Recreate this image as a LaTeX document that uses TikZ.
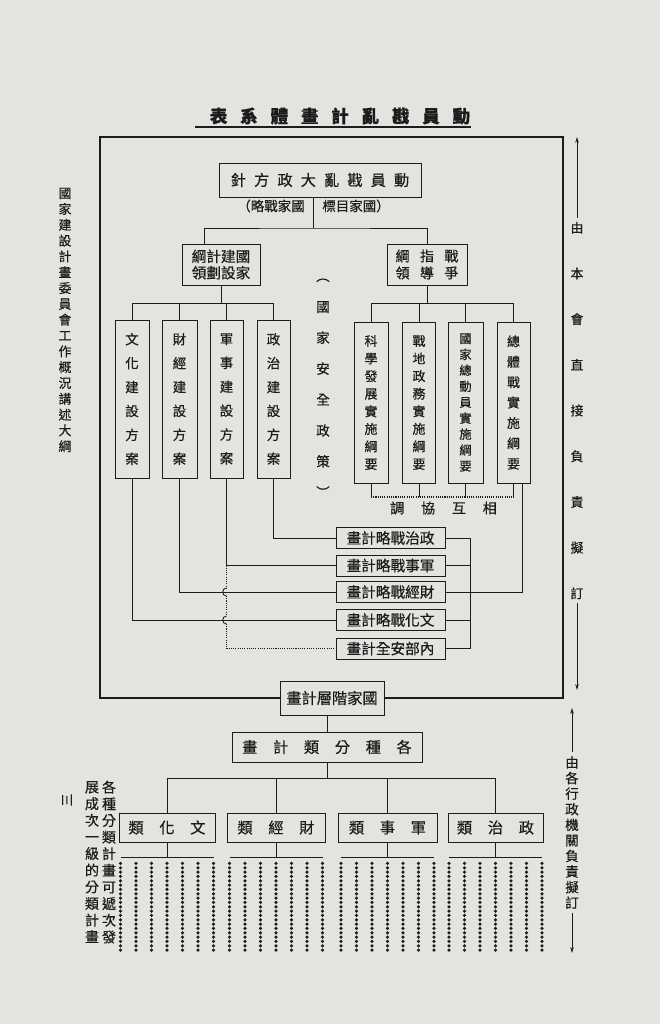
\documentclass[tikz,border=0pt]{standalone}
\usepackage{fontspec}
\newfontfamily\cjk[FakeBold=0.5]{Noto Sans CJK TC}
\usetikzlibrary{arrows.meta,calc}
\definecolor{paper}{RGB}{227,227,224}
\definecolor{ink}{RGB}{28,28,28}
\newcommand{\wsp}[1]{\spaceskip #1\relax}

\begin{document}
\begin{tikzpicture}[x=0.03cm, y=-0.03cm, line width=0.75pt, color=ink,
        box/.style={draw=ink, fill=paper, inner sep=0pt, align=center},
        bx/.style 2 args={box, minimum width=#1*0.03cm, minimum height=#2*0.03cm},
        txt/.style={font=\cjk\fontsize{#1}{#1}\selectfont},
        spc/.style 2 args={font={\cjk\fontsize{#1}{#1}\selectfont\wsp{#2}}},
        col/.style 2 args={align=center, font=\cjk\fontsize{#1}{#2}\selectfont},
        title/.style={font={\cjk\bfseries\fontsize{15}{15}\selectfont\wsp{10.9pt}}},
        dots/.style={line width=3pt, line cap=round, dash pattern=on 0pt off 3.7pt},
        tip/.style={-{Stealth[length=5pt,width=3pt]}}
    ]
    \fill[paper] (0,0) rectangle (660,1024);

    % title
    \node[title] (ttl) at (340,116) {表 系 體 畫 計 亂 戡 員 動};
    \coordinate (ul) at (0,127);
    \draw[line width=1.6pt] ($(ttl.west |- ul)+(-10,0)$) -- ($(ttl.east |- ul)+(-4,0)$);

    % frame
    \draw[line width=1.4pt] (100,137) rectangle (563,698);
    \draw[line width=2pt] (100,698) -- (563,698);

    % top level
    \node[bx={202}{34}, spc={13}{6.9pt}] (nat) at (320,180) {針 方 政 大 亂 戡 員 動};
    \node[txt=11.5, anchor=east] (ngs) at (309,206) {（略戰家國};
    \node[txt=11.5, anchor=west] (ngo) at (318,206) {標目家國）};
    \coordinate (hub) at (313,228);

    \node[bx={78}{41}, col={12.5}{14}] (gp) at (221,264.5) {綱計建國\\領劃設家};
    \node[bx={80}{41}, align=center, font={\cjk\fontsize{12}{14.5}\selectfont\wsp{8.8pt}}] (wg) at (427,264.5) {綱 指 戰\\領 導 爭};

    \draw (nat.south -| hub) -- (hub);
    \draw ($(gp.north)+(-17,0)$) |- (hub) -| (wg.north);

    % construction plans
    \node[bx={34}{158}, col={11.5}{20.4}] (cc) at (132,399) {文\\化\\建\\設\\方\\案};
    \node[bx={35}{158}, col={11.5}{20.4}] (ec) at (179.5,399) {財\\經\\建\\設\\方\\案};
    \node[bx={33}{158}, col={11.5}{20.4}] (mc) at (226.5,399) {軍\\事\\建\\設\\方\\案};
    \node[bx={33}{158}, col={11.5}{20.4}] (pc) at (273.5,399) {政\\治\\建\\設\\方\\案};

    \node[col={11.5}{26.4}] (nsp) at (323,388) {︵\\國\\家\\安\\全\\政\\策\\︶};

    % implementation outlines
    \node[bx={34}{161}, col={11}{15}] (st) at (371,402.5) {科\\學\\發\\展\\實\\施\\綱\\要};
    \node[bx={33}{161}, col={11}{15}] (fa) at (419,402.5) {戰\\地\\政\\務\\實\\施\\綱\\要};
    \node[bx={35}{161}, col={10.5}{13.6}] (nm) at (465.5,402.5) {國\\家\\總\\動\\員\\實\\施\\綱\\要};
    \node[bx={33}{161}, col={11}{17.4}] (zt) at (513.5,402.5) {總\\體\\戰\\實\\施\\綱\\要};

    \coordinate (lb) at (0,303);
    \draw (gp.south) -- (gp.south |- lb);
    \draw (cc.north |- lb) -- (pc.north |- lb);
    \foreach \b in {cc,ec,mc,pc}
        \draw (\b.north) -- (\b.north |- lb);
    \draw (wg.south) -- (wg.south |- lb);
    \draw (st.north |- lb) -- (zt.north |- lb);
    \foreach \b in {st,fa,nm,zt}
        \draw (\b.north) -- (\b.north |- lb);

    % mutual coordination
    \coordinate (co) at (0,497);
    \foreach \b in {st,fa,nm,zt}
        \draw (\b.south) -- (\b.south |- co);
    \draw[densely dotted, line width=0.9pt] (st.south |- co) -- (zt.south |- co);
    \node[spc={12}{14.35pt}] (mut) at (443.5,508) {調 協 互 相};

    % strategic plans
    \foreach \n/\y/\t in {sp1/538/畫計略戰治政, sp2/565.5/畫計略戰事軍, sp3/592/畫計略戰經財, sp4/620/畫計略戰化文, sp5/648.5/畫計全安部內}
        \node[bx={109}{21}, txt=12.5] (\n) at (390.5,\y) {\t};

    \draw (pc.south) |- (sp1.west);
    \draw (mc.south) |- (sp2.west);
    \draw (ec.south) |- (sp3.west);
    \draw (cc.south) |- (sp4.west);
    \draw[densely dotted, line width=0.9pt] (mc.south |- sp2.west) -- ($(mc.south |- sp3.west)+(0,-4)$)
        ($(mc.south |- sp3.west)+(0,4)$) -- ($(mc.south |- sp4.west)+(0,-4)$)
        ($(mc.south |- sp4.west)+(0,4)$) |- (sp5.west);
    \foreach \s in {sp3,sp4}
        \draw ($(mc.south |- \s.west)+(0,-4)$) .. controls +(-5,0) and +(-5,0) .. ($(mc.south |- \s.west)+(0,4)$);

    \coordinate (bk) at (470,0);
    \foreach \s in {sp1,sp2,sp3,sp4,sp5}
        \draw (\s.east) -- (\s.east -| bk);
    \draw (sp1.east -| bk) -- (sp5.east -| bk);
    \draw ($(zt.south)+(8.5,0)$) |- (sp3.east -| bk);

    % state level and categories
    \node[bx={104}{34}, txt=13] (sl) at (332,698) {畫計層階家國};
    \node[bx={190}{30}, spc={13}{13.35pt}] (cat) at (327,747) {畫 計 類 分 種 各};
    \draw (cat.north) -- (cat.north |- sl.south);

    \foreach \n/\x/\w/\t in {cu/167/96/類 化 文, fi/276/98/類 經 財, mi/387.5/99/類 事 軍, po/495.5/95/類 治 政}
        \node[bx={\w}{29}, spc={13}{13.35pt}] (\n) at (\x,827.5) {\t};

    \coordinate (cb) at (0,778);
    \draw (cat.south) -- (cat.south |- cb);
    \draw (cu.north |- cb) -- (po.north |- cb);
    \foreach \b in {cu,fi,mi,po}
        \draw (\b.north) -- (\b.north |- cb);

    \foreach \n in {cu,fi,mi,po} {
        \draw (\n.south) -- ++(0,15);
        \draw ($(\n.south)+(-46.5,15)$) -- ($(\n.south)+(46.5,15)$);
        \foreach \k in {-3,...,3}
            \draw[dots] ($(\n.south)+(\k*15.5,21)$) -- ($(\n.south)+(\k*15.5,108)$);
    }

    % side texts
    \node[col={11}{13.5}] (lt) at (65,320) {國\\家\\建\\設\\計\\畫\\委\\員\\會\\工\\作\\概\\況\\講\\述\\大\\綱};
    \node[col={11}{39}] (rt) at (577,410.5) {由\\本\\會\\直\\接\\負\\責\\擬\\訂};
    \coordinate (rtop) at (577,137);
    \coordinate (rbot) at (577,690);
    \draw[tip] (rt.north) -- (rtop);
    \draw[tip] (rt.south) -- (rbot);

    \node[col={11.5}{13.3}] (rb) at (572,832.5) {由\\各\\行\\政\\機\\關\\負\\責\\擬\\訂};
    \coordinate (rbtop) at (572,708);
    \coordinate (rbbot) at (572,953);
    \draw[tip] (rb.north) -- (rbtop);
    \draw[tip] (rb.south) -- (rbbot);

    \node[col={12}{14.2}] (bl1) at (109,862) {各\\種\\分\\類\\計\\畫\\可\\遞\\次\\發};
    \node[col={12}{14.2}] (bl2) at (92,862) {展\\成\\次\\一\\級\\的\\分\\類\\計\\畫};
    \node[txt=11, rotate=90] (pg) at (67,800) {三};
\end{tikzpicture}
\end{document}
